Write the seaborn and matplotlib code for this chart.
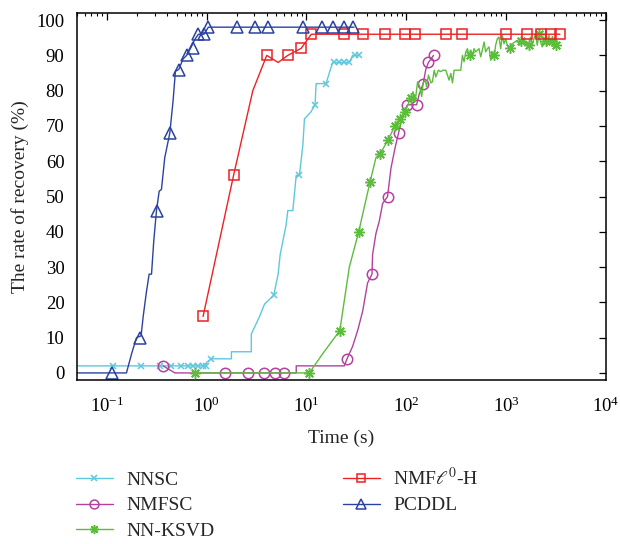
import numpy as np
import pandas as pd
import matplotlib
matplotlib.use("Agg")
import matplotlib.pyplot as plt
from matplotlib.lines import Line2D
from matplotlib.ticker import LogLocator, NullFormatter, MultipleLocator
import seaborn as sns

# ---------------- data ----------------
labels = ["NNSC", "NMFSC", "NN-KSVD", r"NMF$\ell^0$-H", "PCDDL"]
colors = ["#5ec8dc", "#b3429f", "#5cbd3c", "#ee2124", "#2b43a0"]
markers = ["x", "o", (8, 2, 0), "s", "^"]

# NNSC
nnsc_t = [0.05, 0.99, 1.0, 1.11, 1.77, 1.77, 2.8, 2.8, 3.39, 3.8, 4.7, 5.2, 5.45, 6.26, 6.5,
          7.3, 7.9, 8.5, 9.2, 9.55, 11.1, 12.2, 12.5, 15.7, 18.3, 26.9, 29, 34]
nnsc_r = [2, 2, 3, 4, 4, 6, 6, 11, 16, 19.5, 22, 28, 33.5, 42, 46,
          46, 56, 56, 64.5, 72, 74, 76, 82, 82, 88, 88, 90, 90]
nnsc_mt = [0.116, 0.222, 0.339, 0.443, 0.558, 0.65, 0.73, 0.82, 0.92, 0.99, 1.11, 4.7, 8.4,
           12.1, 15.7, 18.8, 21.4, 24, 26.9, 30.9, 33.9]
nnsc_mr = [2, 2, 2, 2, 2, 2, 2, 2, 2, 2, 4, 22, 56, 76, 82, 88, 88, 88, 88, 90, 90]

# NMFSC
nmfsc_t = [0.366, 0.48, 7.9, 7.9, 24, 25.5, 29, 32.6, 36.6, 41, 45.4, 46, 49.7, 53.7, 58, 65,
           70.3, 77.6, 83.8, 91.9, 103, 127, 135, 148, 157, 167, 188]
nmfsc_r = [2, 0, 0, 2, 2, 4, 7.5, 12, 17.5, 25.5, 28, 33.5, 39.5, 43, 48, 50,
           58, 64, 68, 73, 76, 76, 79, 82, 86, 88, 90]
nmfsc_mt = [0.366, 1.54, 2.59, 3.72, 4.79, 6.0, 25.5, 45.4, 65, 83.8, 103, 127, 148, 167, 188]
nmfsc_mr = [2, 0, 0, 0, 0, 0, 4, 28, 50, 68, 76, 76, 82, 88, 90]

# NN-KSVD
ksvd_t = [0.76, 10.7, 14.6, 21.6, 26.9, 33.4, 38, 43.3, 49.7, 54.6, 65.6, 77, 86.4, 97.7, 111,
          117, 123, 130, 137, 143, 148, 155, 160, 167, 177, 183, 191, 198, 210, 222, 234, 249,
          259, 269, 280, 291, 302, 319, 339, 352, 366, 380, 395, 411, 427, 443, 461, 479, 497,
          537, 558, 580, 603, 626, 651, 676, 703, 730, 759, 788, 819, 851, 885, 919, 955, 993,
          1031, 1089, 1157, 1230, 1298, 1371, 1423, 1514, 1573, 1634, 1698, 1765, 1834, 1905,
          1980, 2057, 2138, 2221, 2308, 2398, 2492, 2589, 2692, 2796, 2905, 3020, 3138, 3260]
ksvd_r = [0, 0, 5.5, 12, 30, 40, 47, 54, 61, 62, 66, 70, 72, 74, 78,
          79.7, 76.9, 82.5, 81.1, 78.3, 82.2, 83.0, 81.1, 84.4, 82.2, 82.5, 85.8, 83.9, 85.8, 85.4,
          85.8, 85.8, 84.4, 83.0, 84.9, 82.2, 85.8, 85.8, 85.8, 85.8, 90.0, 88.2, 91.0, 91.9, 89.6,
          91.5, 90.0, 91.9, 91.0, 91.9, 89.6, 91.5, 93.8, 91.0, 91.9, 92.4, 88.6, 91.0, 89.6, 92.9,
          94.7, 95.2, 91.9, 95.7, 93.3, 94.7, 92.9, 91.6, 93.3, 93.8, 94.3, 92.9, 93.8, 94.6, 92.9,
          93.8, 93.0, 95.2, 92.9, 94.7, 96.1, 92.9, 95.7, 93.8, 92.4, 95.2, 93.8, 92.9, 95.7, 93.3,
          94.1, 92.9, 94.7, 93.3]
ksvd_mt = [0.76, 10.7, 21.6, 33.4, 43.3, 54.6, 65.6, 77, 86.4, 97.7, 111, 434, 759, 1089, 1422,
           1698, 2138, 2494, 2904, 3140]
ksvd_mr = [0, 0, 12, 40, 54, 62, 66, 70, 72, 74, 78, 90, 90, 92, 94, 93, 96, 94, 94, 93]

# NMFl0-H
nmfl0_t = [0.92, 1.86, 2.9, 4.0, 5.2, 6.5, 8.85, 11.2, 3470]
nmfl0_r = [16, 56, 80, 90, 88, 90, 92, 96, 96]
nmfl0_mt = [0.92, 1.86, 4.0, 6.5, 8.85, 11.2, 24, 36.6, 61, 97.7, 123, 249, 366, 993, 1610,
            2256, 2840, 3467]
nmfl0_mr = [16, 56, 90, 90, 92, 96, 96, 96, 96, 96, 96, 96, 96, 96, 96, 96, 96, 96]

# PCDDL
pcddl_t = [0.05, 0.157, 0.177, 0.198, 0.22, 0.231, 0.249, 0.265, 0.28, 0.295, 0.314, 0.334,
           0.352, 0.38, 0.427, 0.46, 0.486, 0.525, 0.58, 0.63, 0.703, 0.76, 0.826, 0.94, 1.04, 30]
pcddl_r = [0, 0, 5.5, 10, 10.5, 16, 23, 28, 28, 37.5, 46, 51.5,
           52, 61, 68, 77, 85.5, 86, 89, 90, 92.5, 94.5, 96, 96, 98, 98]
pcddl_mt = [0.112, 0.217, 0.316, 0.427, 0.525, 0.63, 0.736, 0.826, 0.93, 1.04, 2.03, 3.07, 4.1,
            9.3, 14.2, 18.6, 23.6, 29]
pcddl_mr = [0, 10, 46, 68, 86, 90, 92, 96, 96, 98, 98, 98, 98, 98, 98, 98, 98, 98]

lines = [(nnsc_t, nnsc_r), (nmfsc_t, nmfsc_r), (ksvd_t, ksvd_r), (nmfl0_t, nmfl0_r), (pcddl_t, pcddl_r)]
marks = [(nnsc_mt, nnsc_mr), (nmfsc_mt, nmfsc_mr), (ksvd_mt, ksvd_mr), (nmfl0_mt, nmfl0_mr), (pcddl_mt, pcddl_mr)]
msizes = [5, 7.5, 7.5, 6.5, 8.5]

# ---------------- style ----------------
sns.set_theme(style="white")
plt.rcParams["font.family"] = ["Liberation Serif", "DejaVu Serif"]
plt.rcParams["mathtext.fontset"] = "stix"
plt.rcParams["xtick.direction"] = "in"
plt.rcParams["ytick.direction"] = "in"

fig = plt.figure(figsize=(6.2, 5.44), dpi=100)
ax = fig.add_axes([0.124, 0.3015, 0.853, 0.6745])

for (t, r), (mt, mr), c, m, ms, lab in zip(lines, marks, colors, markers, msizes, labels):
    df = pd.DataFrame({"t": t, "r": r})
    sns.lineplot(data=df, x="t", y="r", ax=ax, color=c, lw=1.0, sort=False,
                 estimator=None, legend=False)
    mdf = pd.DataFrame({"t": mt, "r": mr})
    ax.plot(mdf["t"], mdf["r"], linestyle="none", marker=m, markersize=ms,
            markerfacecolor="none", markeredgecolor=c, markeredgewidth=1.1)

ax.set_xscale("log")
ax.set_xlim(0.05, 1e4)
ax.set_ylim(-2.0, 102.0)
ax.yaxis.set_major_locator(MultipleLocator(10))
ax.xaxis.set_major_locator(LogLocator(base=10, numticks=10))
ax.xaxis.set_minor_locator(LogLocator(base=10, subs=np.arange(2, 10), numticks=20))
ax.xaxis.set_minor_formatter(NullFormatter())
ax.tick_params(axis="both", which="both", top=True, right=True, colors="black", labelsize=13.5)
ax.tick_params(axis="both", which="major", length=5, width=0.9)
ax.tick_params(axis="y", which="major", pad=9)
ax.tick_params(axis="x", which="major", pad=12)
ax.tick_params(axis="x", which="minor", length=2.5, width=0.8)
for s in ax.spines.values():
    s.set_color("black")
    s.set_linewidth(1.1)

ax.set_xlabel("Time (s)", fontsize=14, labelpad=10)
ax.set_ylabel("The rate of recovery (%)", fontsize=14, labelpad=5)

handles = [Line2D([0], [0], color=c, lw=1.0, marker=m, markersize=ms * 0.85,
                  markerfacecolor="none", markeredgecolor=c, markeredgewidth=1.1)
           for c, m, ms in zip(colors, markers, msizes)]
fig.legend(handles, labels, loc="upper left",
           bbox_to_anchor=(0.122, 1 - 467 / 544), bbox_transform=fig.transFigure,
           ncol=2, frameon=False, fontsize=14,
           handlelength=1.9, handletextpad=0.7, columnspacing=6.6, labelspacing=0.4,
           borderaxespad=0, borderpad=0)

fig.savefig("out.png", dpi=100)
